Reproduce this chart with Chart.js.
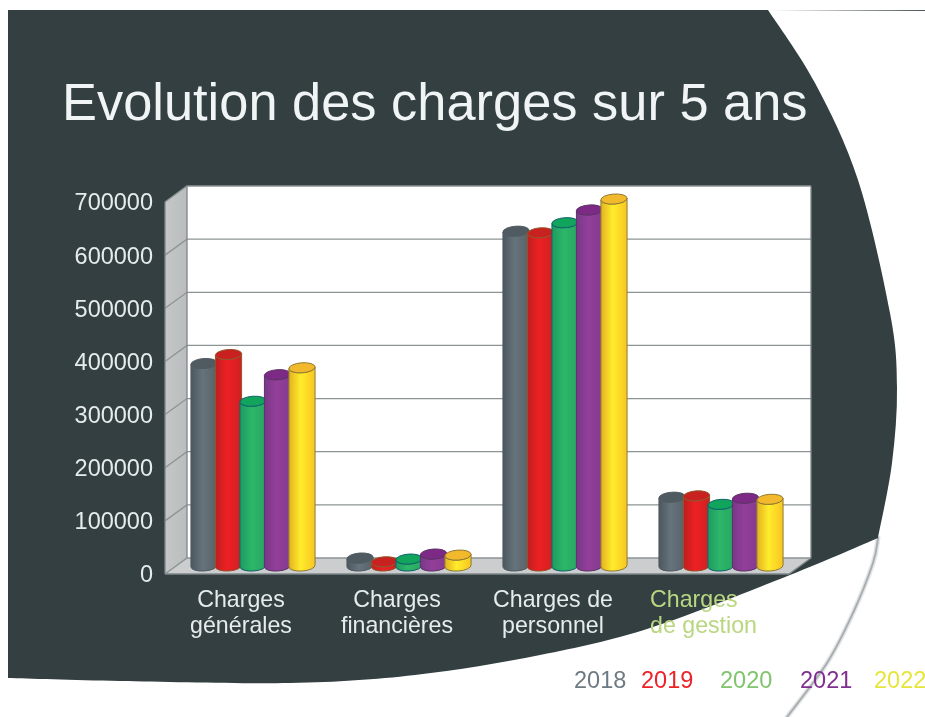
<!DOCTYPE html>
<html lang="fr">
<head>
<meta charset="utf-8">
<title>Evolution des charges sur 5 ans</title>
<script src="https://cdn.jsdelivr.net/npm/chart.js@4"></script>
<style>
  html, body { margin: 0; padding: 0; background: #fff; }
  canvas { display: block; }
</style>
</head>
<body>
<canvas id="myChart" width="925" height="717"></canvas>
<script>
const categories = [
  ['Charges', 'générales'],
  ['Charges', 'financières'],
  ['Charges de', 'personnel'],
  ['Charges', 'de gestion']
];
const years = ['2018', '2019', '2020', '2021', '2022'];
const values2018 = [381000, 15000, 630000, 129500];
const values2019 = [398000, 8000, 627000, 132000];
const values2020 = [310000, 13000, 646000, 116000];
const values2021 = [360000, 22500, 670000, 127500];
const values2022 = [373000, 20500, 690500, 125500];
const tickValues = [0, 100000, 200000, 300000, 400000, 500000, 600000, 700000];

// left edge, middle, right edge of each cylinder, then lid and outline
const cylinderStyles = [
  { edge: '#4c575e', mid: '#67737c', far: '#57626a', lid: '#4f5a61', line: '#4f5a61', legend: '#6e7a82' },
  { edge: '#bd1f20', mid: '#ee2024', far: '#cf2022', lid: '#c9211f', line: '#94552a', legend: '#ec2227' },
  { edge: '#1d9a60', mid: '#2cb769', far: '#28a663', lid: '#10a45c', line: '#11616c', legend: '#80c46c' },
  { edge: '#783889', mid: '#933f99', far: '#843a8f', lid: '#7c2a86', line: '#5d3266', legend: '#7f2f8f' },
  { edge: '#e3b122', mid: '#ffec2c', far: '#f8c522', lid: '#f3b92d', line: '#8f7a30', legend: '#e6e53c' }
];

const SLIDE = '#333f41';
const DEPTH_X = 22, DEPTH_Y = 16;
const WALL_LIFT = -2; // tick text sits 2px under its wall line in the reference
const BAR_SHIFT_X = 10, BAR_SHIFT_Y = -10;

// catmull-rom curve through a list of [x, y]
function smoothThrough(ctx, pts) {
  for (let i = 0; i < pts.length - 1; i++) {
    const p0 = pts[Math.max(i - 1, 0)], p1 = pts[i], p2 = pts[i + 1];
    const p3 = pts[Math.min(i + 2, pts.length - 1)];
    ctx.bezierCurveTo(
      p1[0] + (p2[0] - p0[0]) / 6, p1[1] + (p2[1] - p0[1]) / 6,
      p2[0] - (p3[0] - p1[0]) / 6, p2[1] - (p3[1] - p1[1]) / 6,
      p2[0], p2[1]
    );
  }
}

const slideBackground = {
  id: 'slideBackground',
  afterLayout(chart) {
    // the title runs past the plot's right edge, don't let it get squeezed
    chart.titleBlock.right = chart.width;
  },
  beforeDraw(chart) {
    const ctx = chart.ctx;
    ctx.save();
    ctx.fillStyle = '#fff';
    ctx.fillRect(0, 0, chart.width, chart.height);

    // thin rule at the top right
    const rule = ctx.createLinearGradient(770, 0, 925, 0);
    rule.addColorStop(0, '#ffffff');
    rule.addColorStop(1, '#4c5659');
    ctx.strokeStyle = rule;
    ctx.lineWidth = 1.2;
    ctx.beginPath();
    ctx.moveTo(770, 10.5);
    ctx.lineTo(925, 10.5);
    ctx.stroke();

    // grey swoosh under the dark shape
    const swoosh = [[878, 538], [873, 563], [853, 613], [827, 663], [787, 717]];
    ctx.lineCap = 'round';
    ctx.beginPath();
    ctx.moveTo(swoosh[0][0], swoosh[0][1]);
    smoothThrough(ctx, swoosh);
    ctx.strokeStyle = '#e4e6e7';
    ctx.lineWidth = 5;
    ctx.stroke();
    ctx.strokeStyle = '#a9aeb0';
    ctx.lineWidth = 2;
    ctx.stroke();

    // dark shape
    ctx.fillStyle = SLIDE;
    ctx.beginPath();
    ctx.moveTo(8, 10);
    ctx.lineTo(768, 10);
    smoothThrough(ctx, [[768, 10], [815, 83], [858, 180], [890, 313], [897, 387], [892, 463], [878, 538]]);
    smoothThrough(ctx, [[878, 538], [790, 575], [650, 628], [540, 655], [415, 675], [290, 683], [120, 681], [8, 678]]);
    ctx.closePath();
    ctx.fill();

    // last category label hangs left in the reference
    const label = chart.scales.x.getLabelItems()[3];
    label.options.textAlign = 'left';
    label.options.translation[0] = 650;
    ctx.restore();
  }
};

const walls = {
  id: 'walls',
  beforeDatasetsDraw(chart) {
    const ctx = chart.ctx;
    const { left, right, top, bottom } = chart.chartArea;
    ctx.save();
    ctx.translate(0, WALL_LIFT);

    // back wall
    ctx.fillStyle = '#fff';
    ctx.fillRect(left + DEPTH_X, top - DEPTH_Y, right - left, bottom - top);

    // side wall
    const side = ctx.createLinearGradient(left, 0, left + DEPTH_X, 0);
    side.addColorStop(0, '#c4c6c7');
    side.addColorStop(1, '#babdbe');
    ctx.fillStyle = side;
    ctx.beginPath();
    ctx.moveTo(left, top);
    ctx.lineTo(left + DEPTH_X, top - DEPTH_Y);
    ctx.lineTo(left + DEPTH_X, bottom - DEPTH_Y);
    ctx.lineTo(left, bottom);
    ctx.closePath();
    ctx.fill();

    // floor
    ctx.fillStyle = '#cbcdce';
    ctx.beginPath();
    ctx.moveTo(left, bottom);
    ctx.lineTo(left + DEPTH_X, bottom - DEPTH_Y);
    ctx.lineTo(right + DEPTH_X, bottom - DEPTH_Y);
    ctx.lineTo(right, bottom);
    ctx.closePath();
    ctx.fill();

    // grid lines follow the y scale, bending over the side wall
    ctx.strokeStyle = '#8d9495';
    ctx.lineWidth = 1.3;
    tickValues.forEach(v => {
      const y = chart.scales.y.getPixelForValue(v);
      ctx.beginPath();
      ctx.moveTo(left, y);
      ctx.lineTo(left + DEPTH_X, y - DEPTH_Y);
      ctx.lineTo(right + DEPTH_X, y - DEPTH_Y);
      ctx.stroke();
    });

    // outline of the walls
    ctx.strokeStyle = '#7e8789';
    ctx.beginPath();
    ctx.moveTo(left, bottom);
    ctx.lineTo(left, top);
    ctx.moveTo(left + DEPTH_X, top - DEPTH_Y);
    ctx.lineTo(left + DEPTH_X, bottom - DEPTH_Y);
    ctx.moveTo(right + DEPTH_X, top - DEPTH_Y);
    ctx.lineTo(right + DEPTH_X, bottom - DEPTH_Y);
    ctx.lineTo(right, bottom);
    ctx.lineTo(left, bottom);
    ctx.stroke();
    ctx.restore();
  }
};

const cylinders = {
  id: 'cylinders',
  // the bars are painted below as cylinders, left to right
  beforeDatasetDraw() {
    return false;
  },
  afterDatasetsDraw(chart) {
    const ctx = chart.ctx;
    ctx.save();
    ctx.translate(BAR_SHIFT_X, BAR_SHIFT_Y);
    chart.data.datasets.forEach((ds, i) => {
      const s = cylinderStyles[i];
      chart.getDatasetMeta(i).data.forEach(bar => {
        const { x, y, base, width } = bar.getProps(['x', 'y', 'base', 'width'], true);
        const l = x - width / 2, r = x + width / 2, rx = width / 2, ry = 5, tilt = -0.07;
        const body = ctx.createLinearGradient(l, 0, r, 0);
        body.addColorStop(0, s.edge);
        body.addColorStop(0.45, s.mid);
        body.addColorStop(1, s.far);
        ctx.fillStyle = body;
        ctx.strokeStyle = s.line;
        ctx.lineWidth = 1;
        ctx.beginPath();
        ctx.ellipse(x, y, rx, ry, tilt, Math.PI, 0, true);
        ctx.ellipse(x, base, rx, ry, tilt, 0, Math.PI, false);
        ctx.closePath();
        ctx.fill();
        ctx.stroke();
        ctx.fillStyle = s.lid;
        ctx.beginPath();
        ctx.ellipse(x, y, rx, ry, tilt, 0, Math.PI * 2);
        ctx.fill();
        ctx.stroke();
      });
    });
    ctx.restore();
  }
};

// coloured years under the chart, set like the slide's own text
const yearLegend = {
  id: 'yearLegend',
  afterDraw(chart) {
    const ctx = chart.ctx;
    const xs = [574, 641, 720, 800, 874];
    ctx.save();
    ctx.font = '23.5px "Liberation Sans"';
    ctx.textAlign = 'left';
    ctx.textBaseline = 'alphabetic';
    chart.data.datasets.forEach((ds, i) => {
      ctx.fillStyle = cylinderStyles[i].legend;
      ctx.fillText(ds.label, xs[i], 688);
    });
    ctx.restore();
  }
};

const seriesValues = [values2018, values2019, values2020, values2021, values2022];

new Chart(document.getElementById('myChart'), {
  type: 'bar',
  data: {
    labels: categories,
    datasets: years.map((year, i) => ({
      label: year,
      data: seriesValues[i],
      backgroundColor: cylinderStyles[i].mid,
      categoryPercentage: 0.785,
      barPercentage: 1.07
    }))
  },
  plugins: [slideBackground, walls, cylinders, yearLegend],
  options: {
    responsive: false,
    animation: false,
    layout: { padding: { left: 62, right: 136, top: 74, bottom: 0 } },
    plugins: {
      legend: { display: false },
      tooltip: { enabled: false },
      title: {
        display: true,
        text: 'Evolution des charges sur 5 ans',
        align: 'start',
        color: '#f0f4f4',
        font: { family: '"Liberation Sans"', size: 52.4, weight: 'normal' },
        padding: { top: 0, bottom: 67.12 }
      }
    },
    scales: {
      x: {
        grid: { display: false },
        border: { display: false },
        afterFit(scale) { scale.height = 141; },
        ticks: {
          autoSkip: false,
          maxRotation: 0,
          minRotation: 0,
          padding: 3,
          labelOffset: -2,
          color: ctx => ctx.index === 3 ? '#b9d680' : '#e6ecec',
          font: { family: '"Liberation Sans"', size: 23.2, lineHeight: 1.13 }
        }
      },
      y: {
        min: 0,
        max: 700000,
        grid: { display: false, drawTicks: false },
        border: { display: false },
        afterBuildTicks(scale) { scale.ticks = tickValues.map(value => ({ value })); },
        afterFit(scale) { scale.width = 103; },
        ticks: {
          padding: 12,
          color: '#e6ecec',
          font: { family: '"Liberation Sans"', size: 23.5 },
          callback: value => String(value)
        }
      }
    }
  }
});
</script>
</body>
</html>
